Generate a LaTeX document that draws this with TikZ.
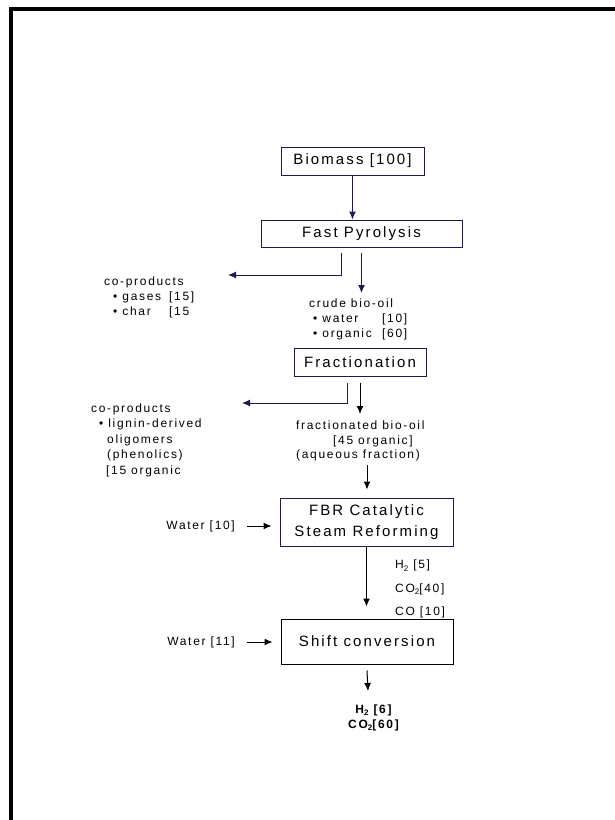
\documentclass[tikz,border=0pt]{standalone}
\usepackage{fontspec}
\setmainfont[LetterSpace=14]{Liberation Sans}
\usetikzlibrary{arrows.meta,calc}
\definecolor{navy}{RGB}{27,27,79}
% lowered small index for chemical formulas
\newcommand\lowidx[1]{\raisebox{-2.5pt}{\fontsize{8}{8}\selectfont #1}}
\begin{document}
\begin{tikzpicture}[x=1pt,y=-1pt,
  proc/.style n args={2}{draw=navy, line width=1pt, minimum width=#1, minimum height=#2,
    inner sep=0pt, align=center, font=\fontsize{15}{21}\selectfont},
  lbl/.style={inner sep=0pt, align=left, anchor=north west, font=\fontsize{12}{15}\selectfont},
  flow/.style={line width=1pt, -{Latex[length=8pt,width=7pt]}}
]
\useasboundingbox (0,0) rectangle (615,820);
% page frame
\draw[line width=3.2pt] (9.5,9) -- (615,9);
\draw[line width=3.2pt] (11,7.4) -- (11,820);

% process boxes
\node[proc={143pt}{28pt}] (biomass) at (352.5,161) {Biomass [100]};
\node[proc={201pt}{27pt}] (pyro) at (361.5,233.5) {Fast Pyrolysis};
\node[proc={132pt}{28pt}] (frac) at (360,362) {Fractionation};
\node[proc={173pt}{48pt}] (fbr) at (366.5,522) {FBR Catalytic\\Steam Reforming};
\node[proc={172pt}{45pt}, draw=black] (shift) at (367,641.5) {Shift conversion};

% stream labels
\node[lbl] (co1) at (104,276.5) {co-products\\
  \hspace*{9pt}\makebox[56pt][l]{• gases}[15]\\
  \hspace*{9pt}\makebox[56pt][l]{• char}[15};
\node[lbl] (crude) at (309,298.5) {crude bio-oil\\
  \hspace*{4pt}\makebox[69pt][l]{• water}[10]\\
  \hspace*{4pt}\makebox[69pt][l]{• organic}[60]};
\node[lbl, font=\fontsize{12}{14.5}\selectfont] (fbo) at (296,421) {fractionated bio-oil\\
  \hspace*{37pt}[45 organic]\\
  (aqueous fraction)};
\node[lbl, font=\fontsize{12}{15.5}\selectfont] (co2) at (91,403.4) {co-products\\
  \hspace*{8pt}• lignin-derived\\
  \hspace*{16pt}oligomers\\
  \hspace*{16pt}(phenolics)\\
  \hspace*{15pt}[15 organic};
\node[inner sep=0pt, anchor=east, font=\fontsize{12}{15}\selectfont] (w10) at (235,526) {Water [10]};
\node[inner sep=0pt, anchor=east, font=\fontsize{12}{15}\selectfont] (w11) at (235,642) {Water [11]};
\node[lbl, font=\fontsize{12}{23.5}\selectfont] (syn) at (395,560) {H\lowidx{2} [5]\\CO\lowidx{2}[40]\\CO [10]};
\node[inner sep=0pt, align=center, font=\fontsize{12}{15}\selectfont\bfseries] (prod) at (373.5,717.5)
  {H\lowidx{2} [6]\\CO\lowidx{2}[60]};

% connectors
\coordinate (co1in) at (228,275);
\coordinate (co2in) at (242,403);
\coordinate (fbin) at (367,465);
\coordinate (prodin) at (368,691);
\draw[flow, navy] (biomass.south) -- (biomass.south |- pyro.north);
\draw[flow, navy] ([xshift=-20.5pt, yshift=-5pt]pyro.south) |- (co1in);
\draw[flow, navy] ([yshift=-5pt]pyro.south) -- ([yshift=5.5pt]pyro.south |- crude.north);
\draw[flow, navy] ([xshift=-13pt, yshift=-6pt]frac.south) |- (co2in);
\draw[flow] ([yshift=-6pt]frac.south) -- ([yshift=7pt]frac.south |- fbo.north);
\draw[flow] (fbin) -- ([yshift=8pt]fbin |- fbr.north);
\draw[flow] ([xshift=12pt]w10.east) -- ([xshift=-8pt]fbr.west |- w10.east);
\draw[flow] (fbr.south) -- ([yshift=12pt]fbr.south |- shift.north);
\draw[flow] ([xshift=12pt]w11.east) -- ([xshift=-8pt]shift.west |- w11.east);
\draw[flow] ([yshift=-6pt]shift.south) -- (prodin);
\end{tikzpicture}
\end{document}
